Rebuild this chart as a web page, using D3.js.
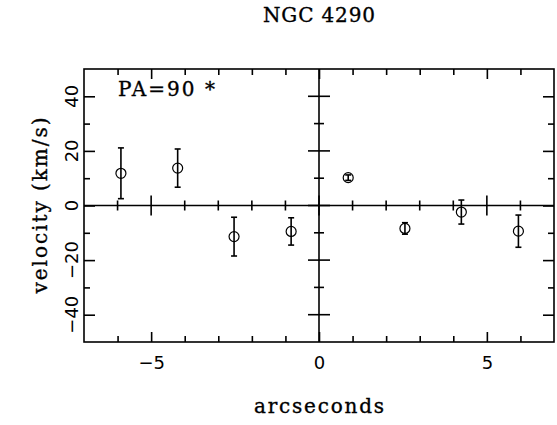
<!DOCTYPE html>
<html>
<head>
<meta charset="utf-8">
<script src="https://cdn.jsdelivr.net/npm/d3@7"></script>
<style>
  html, body { margin: 0; padding: 0; background: #fff; }
  svg { display: block; }
  .serif { font-family: "DejaVu Serif", serif; fill: #000; stroke: #000; stroke-width: 0.35px; }
  .num { font-family: "DejaVu Sans", sans-serif; font-size: 18px; fill: #000; }
</style>
</head>
<body>
<svg id="chart" width="557" height="425"></svg>
<script>
// Offsets along the slit (arcsec), line-of-sight velocities and 1-sigma errors (km/s)
const offsets   = [-5.9, -4.21, -2.53, -0.83, 0.87, 2.56, 4.24, 5.94];
const velocity  = [11.8, 13.7, -11.4, -9.5, 10.2, -8.4, -2.4, -9.4];
const velError  = [9.3, 7.0, 7.1, 5.0, 1.0, 2.1, 4.4, 5.9];

const xMajorTicks = [-5, 0, 5];
const xMinorTicks = [-6, -4, -3, -2, -1, 1, 2, 3, 4, 6];
const yMajorTicks = [-40, -20, 0, 20, 40];
const yMinorTicks = [-30, -10, 10, 30];

const titleText = "NGC 4290";
const panelNote = "PA=90 *";
const xTitle = "arcseconds";
const yTitle = "velocity (km/s)";

const svg = d3.select("#chart");
const L = 84, R = 554, T = 69, B = 342;

const x = d3.scaleLinear().domain([-7, 7]).range([L, R]);
const y = d3.scaleLinear().domain([-50, 50]).range([B, T]);
const fmt = d3.format("d");
const lw = 1.6;

function styleAxis(g) {
  g.select(".domain").remove();
  g.selectAll(".tick line").attr("stroke", "#000").attr("stroke-width", lw);
}

// frame ticks pointing inward
svg.append("g").attr("transform", `translate(0,${B})`)
  .call(d3.axisBottom(x).tickValues(xMinorTicks).tickSize(-6).tickFormat("")).call(styleAxis);
svg.append("g").attr("transform", `translate(0,${B})`)
  .call(d3.axisBottom(x).tickValues(xMajorTicks).tickSize(-10).tickPadding(14).tickFormat(fmt))
  .call(styleAxis)
  .call(g => g.selectAll("text").attr("class", "num").attr("font-size", null).attr("font-family", null));
svg.append("g").attr("transform", `translate(0,${T})`)
  .call(d3.axisTop(x).tickValues(xMinorTicks).tickSize(-6).tickFormat("")).call(styleAxis);
svg.append("g").attr("transform", `translate(0,${T})`)
  .call(d3.axisTop(x).tickValues(xMajorTicks).tickSize(-10).tickFormat("")).call(styleAxis);
svg.append("g").attr("transform", `translate(${L},0)`)
  .call(d3.axisLeft(y).tickValues(yMinorTicks).tickSize(-6).tickFormat("")).call(styleAxis);
svg.append("g").attr("transform", `translate(${L},0)`)
  .call(d3.axisLeft(y).tickValues(yMajorTicks).tickSize(-11).tickFormat("")).call(styleAxis);
svg.append("g").attr("transform", `translate(${R},0)`)
  .call(d3.axisRight(y).tickValues(yMinorTicks).tickSize(-6).tickFormat("")).call(styleAxis);
svg.append("g").attr("transform", `translate(${R},0)`)
  .call(d3.axisRight(y).tickValues(yMajorTicks).tickSize(-11).tickFormat("")).call(styleAxis);

// rotated y tick labels
svg.append("g").selectAll("text").data(yMajorTicks).join("text")
  .attr("class", "num")
  .attr("text-anchor", "middle")
  .attr("transform", d => `translate(78,${y(d)}) rotate(-90)`)
  .text(d => fmt(d));

// frame
svg.append("rect").attr("x", L).attr("y", T).attr("width", R - L).attr("height", B - T)
  .attr("fill", "none").attr("stroke", "#000").attr("stroke-width", lw);

// zero axes through the middle, with ticks crossing them
const cross = svg.append("g").attr("stroke", "#000").attr("stroke-width", lw);
cross.append("line").attr("x1", L).attr("x2", R).attr("y1", y(0)).attr("y2", y(0));
cross.append("line").attr("x1", x(0)).attr("x2", x(0)).attr("y1", T).attr("y2", B);
cross.selectAll(".xmin").data(xMinorTicks).join("line")
  .attr("x1", d => x(d)).attr("x2", d => x(d)).attr("y1", y(0) - 5).attr("y2", y(0) + 5);
cross.selectAll(".xmaj").data(xMajorTicks).join("line")
  .attr("x1", d => x(d)).attr("x2", d => x(d)).attr("y1", y(0) - 10).attr("y2", y(0) + 10);
cross.selectAll(".ymin").data(yMinorTicks).join("line")
  .attr("y1", d => y(d)).attr("y2", d => y(d)).attr("x1", x(0) - 5).attr("x2", x(0) + 5);
cross.selectAll(".ymaj").data(yMajorTicks).join("line")
  .attr("y1", d => y(d)).attr("y2", d => y(d)).attr("x1", x(0) - 11).attr("x2", x(0) + 11);

// error bars and open circles
const pts = offsets.map((o, i) => ({ o, v: velocity[i], e: velError[i] }));
const eb = svg.append("g").attr("stroke", "#000").attr("stroke-width", lw).attr("fill", "none");
eb.selectAll(".bar").data(pts).join("line")
  .attr("x1", d => x(d.o)).attr("x2", d => x(d.o))
  .attr("y1", d => y(d.v + d.e)).attr("y2", d => y(d.v - d.e));
eb.selectAll(".capT").data(pts).join("line")
  .attr("x1", d => x(d.o) - 3).attr("x2", d => x(d.o) + 3)
  .attr("y1", d => y(d.v + d.e)).attr("y2", d => y(d.v + d.e));
eb.selectAll(".capB").data(pts).join("line")
  .attr("x1", d => x(d.o) - 3).attr("x2", d => x(d.o) + 3)
  .attr("y1", d => y(d.v - d.e)).attr("y2", d => y(d.v - d.e));
svg.append("g").selectAll("circle").data(pts).join("circle")
  .attr("cx", d => x(d.o)).attr("cy", d => y(d.v)).attr("r", 5)
  .attr("fill", "none").attr("stroke", "#000").attr("stroke-width", 1.2);

// texts
svg.append("text").attr("class", "serif").attr("x", 319).attr("y", 22)
  .attr("text-anchor", "middle").attr("font-size", 20)
  .attr("textLength", 112).attr("lengthAdjust", "spacing").text(titleText);
svg.append("text").attr("class", "serif").attr("x", 118).attr("y", 96)
  .attr("font-size", 20)
  .attr("textLength", 97).attr("lengthAdjust", "spacing").text(panelNote);
svg.append("text").attr("class", "serif").attr("x", 319).attr("y", 413)
  .attr("text-anchor", "middle").attr("font-size", 20)
  .attr("textLength", 130).attr("lengthAdjust", "spacing").text(xTitle);
svg.append("text").attr("class", "serif")
  .attr("transform", `translate(47,${y(0)}) rotate(-90)`)
  .attr("text-anchor", "middle").attr("font-size", 20)
  .attr("textLength", 176).attr("lengthAdjust", "spacing").text(yTitle);
</script>
</body>
</html>
